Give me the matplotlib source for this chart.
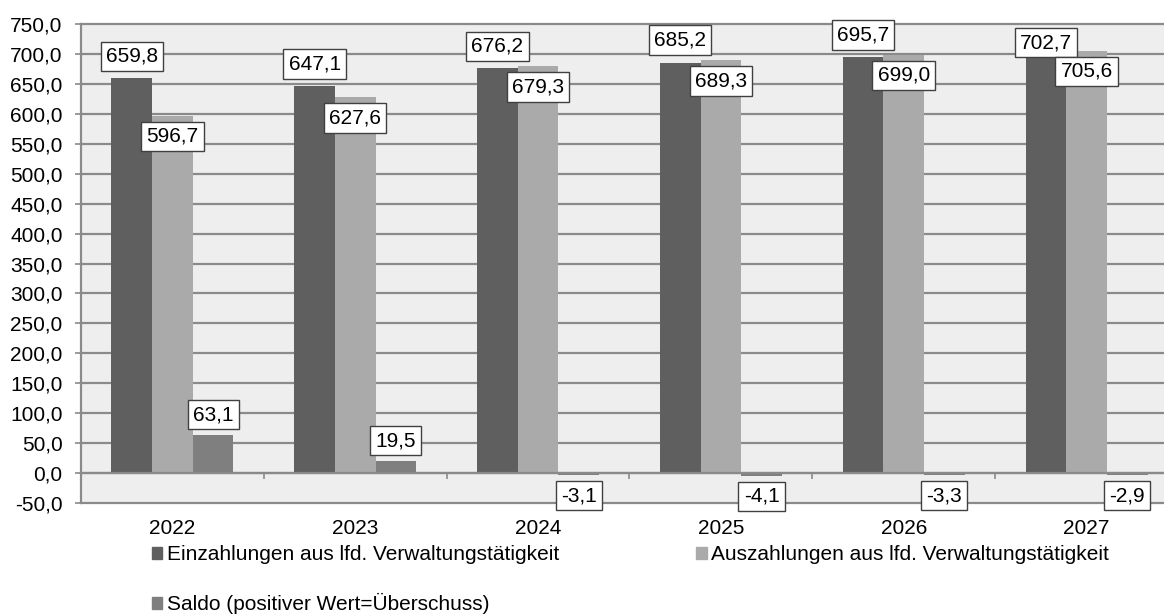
import numpy as np
import matplotlib
matplotlib.use('Agg')
from matplotlib import pyplot as plt
from matplotlib.patches import Patch
from matplotlib.ticker import FuncFormatter, MultipleLocator

plt.rcParams['font.family'] = ['Liberation Sans', 'DejaVu Sans']
fs = 15
plt.rcParams['font.size'] = fs

# data
years = ['2022', '2023', '2024', '2025', '2026', '2027']
einzahlungen = [659.8, 647.1, 676.2, 685.2, 695.7, 702.7]
auszahlungen = [596.7, 627.6, 679.3, 689.3, 699.0, 705.6]
saldo = [63.1, 19.5, -3.1, -4.1, -3.3, -2.9]

lbl_ein = 'Einzahlungen aus lfd. Verwaltungstätigkeit'
lbl_aus = 'Auszahlungen aus lfd. Verwaltungstätigkeit'
lbl_sal = 'Saldo (positiver Wert=Überschuss)'

# gap (px) between bar end and label box, Excel shifted the last one
ein_gap = [7, 7, 7, 8, 7, -5]

c_ein = '#5f5f5f'
c_aus = '#aaaaaa'
c_sal = '#7f7f7f'
c_grid = '#8a8a8a'

W, H = 1164, 616
fig = plt.figure(figsize=(W / 100, H / 100), dpi=100)
# plot area runs past the right edge of the picture
ax = fig.add_axes([81 / W, (H - 503) / H, (1178 - 81) / W, (503 - 24) / H])
ax.set_facecolor('#eeeeee')

x = np.arange(len(years))
bw = 1 / 4.5
ax.bar(x - bw, einzahlungen, bw, color=c_ein, zorder=3)
ax.bar(x, auszahlungen, bw, color=c_aus, zorder=3)
ax.bar(x + bw, saldo, bw, color=c_sal, zorder=3)

ax.set_xlim(-0.5, len(years) - 0.5)
ax.set_ylim(-50, 750)

fmt = lambda v: ('%.1f' % v).replace('.', ',')
ax.yaxis.set_major_locator(MultipleLocator(50))
ax.yaxis.set_major_formatter(FuncFormatter(lambda v, p: fmt(v)))
ax.grid(axis='y', color=c_grid, lw=1.6, zorder=1)
for gl in ax.get_ygridlines():
    gl.set_clip_on(False)

for s in ['top', 'right']:
    ax.spines[s].set_visible(False)
ax.spines['left'].set_color(c_grid)
ax.spines['left'].set_linewidth(1.6)
ax.spines['bottom'].set_position(('data', 0))
ax.spines['bottom'].set_color(c_grid)
ax.spines['bottom'].set_linewidth(1.6)
ax.spines['bottom'].set_zorder(4)

ax.tick_params(axis='y', length=4.3, width=1.2, color=c_grid, pad=9, labelsize=fs)
ax.set_xticks(x)
ax.set_xticklabels(years)
ax.set_xticks(np.arange(len(years) + 1) - 0.5, minor=True)
ax.tick_params(axis='x', which='major', length=0, pad=33, labelsize=fs)
ax.tick_params(axis='x', which='minor', length=4.5, width=1.2, color=c_grid, direction='out')

bpad = 0.25
box = dict(boxstyle='square,pad=%s' % bpad, fc='white', ec='#404040', lw=1)
padpx = bpad * fs / 0.72

for i in range(len(years)):
    ax.annotate(fmt(einzahlungen[i]), (x[i] - bw, einzahlungen[i]),
                xytext=(0, ein_gap[i] + padpx), textcoords='offset pixels',
                ha='center', va='bottom', bbox=box, zorder=5)
    ax.annotate(fmt(auszahlungen[i]), (x[i], auszahlungen[i]),
                xytext=(0, -(6 + padpx)), textcoords='offset pixels',
                ha='center', va='top', bbox=box, zorder=5)
    if saldo[i] >= 0:
        ax.annotate(fmt(saldo[i]), (x[i] + bw, saldo[i]),
                    xytext=(0, 6 + padpx), textcoords='offset pixels',
                    ha='center', va='bottom', bbox=box, zorder=5)
    else:
        ax.annotate(fmt(saldo[i]), (x[i] + bw, saldo[i]),
                    xytext=(0, -(6 + padpx)), textcoords='offset pixels',
                    ha='center', va='top', bbox=box, zorder=5)

handles = [Patch(color=c_ein, label=lbl_ein), Patch(color=c_sal, label=lbl_sal),
           Patch(color=c_aus, label=lbl_aus)]
fig.legend(handles=handles, ncol=2, loc='upper left',
           bbox_to_anchor=(152 / W, (H - 545) / H), frameon=False,
           borderpad=0, borderaxespad=0, handlelength=0.5, handleheight=0.5,
           handletextpad=0.2, labelspacing=1.4, columnspacing=6.6, fontsize=fs)

fig.savefig('out.png', dpi=100)
